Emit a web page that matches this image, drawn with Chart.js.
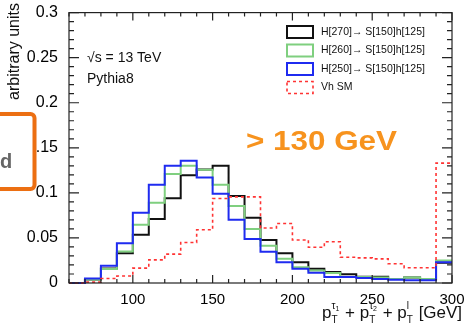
<!DOCTYPE html>
<html>
<head>
<meta charset="utf-8">
<script src="https://cdn.jsdelivr.net/npm/chart.js@4"></script>
<style>
  html, body { margin: 0; padding: 0; background: #fff; }
  #wrap { width: 465px; height: 332px; }
</style>
</head>
<body>
<div id="wrap"><canvas id="histChart"></canvas></div>
<script>
// bin lower edges (GeV), last entry closes the final bin
const binEdges = [60, 70, 80, 90, 100, 110, 120, 130, 140, 150, 160, 170, 180, 190, 200, 210, 220, 230, 240, 250, 260, 270, 280, 290, 300];

const h270 = [0, 0.004, 0.016, 0.033, 0.0535, 0.071, 0.094, 0.1195, 0.126, 0.130, 0.0964, 0.0725, 0.0477, 0.033, 0.0231, 0.0158, 0.0121, 0.0096, 0.007, 0.007, 0.0044, 0.006, 0.0044, 0.0224];
const h260 = [0, 0.004, 0.0154, 0.035, 0.0645, 0.089, 0.121, 0.130, 0.1257, 0.109, 0.0854, 0.0598, 0.0414, 0.0268, 0.0176, 0.014, 0.011, 0.0066, 0.0066, 0.006, 0.0044, 0.006, 0.0044, 0.025];
const h250 = [0, 0.005, 0.019, 0.044, 0.078, 0.109, 0.130, 0.1356, 0.117, 0.099, 0.0703, 0.0488, 0.0348, 0.0231, 0.0158, 0.0114, 0.0066, 0.0066, 0.0055, 0.0044, 0.0037, 0.003, 0.003, 0.023];
const vhSM = [0, 0.001, 0.005, 0.0077, 0.0165, 0.0257, 0.032, 0.045, 0.059, 0.0938, 0.0955, 0.0956, 0.061, 0.066, 0.0477, 0.0396, 0.0458, 0.0286, 0.0279, 0.0268, 0.0213, 0.0169, 0.0169, 0.133];

const seriesLabels = ["H[270]\u2192 S[150]h[125]", "H[260]\u2192 S[150]h[125]", "H[250]\u2192 S[150]h[125]", "Vh SM"];
const xTickLabels = [100, 150, 200, 250, 300];
const yTickLabels = ["0", "0.05", "0.1", "0.15", "0.2", "0.25", "0.3"];

const FONT = "'Liberation Sans', Arial, Helvetica, sans-serif";

// turn bin contents into step points
function toSteps(vals) {
    const pts = vals.map((v, i) => ({ x: binEdges[i], y: v }));
    pts.push({ x: binEdges[vals.length], y: vals[vals.length - 1] });
    return pts;
}

function histo(label, vals, color, dash, order) {
    return {
        label: label,
        data: toSteps(vals),
        stepped: "before", // horizontal at the bin value, then the jump
        borderColor: color,
        borderWidth: dash ? 1.6 : 2,
        borderDash: dash || [],
        pointRadius: 0,
        fill: false,
        order: order,
        clip: false,
    };
}

// ROOT look: frame, inward ticks, legend and the overlay texts
const rootStyle = {
    id: "rootStyle",
    afterDatasetsDraw(chart) {
        const ctx = chart.ctx;
        const a = chart.chartArea;
        const xs = chart.scales.x, ys = chart.scales.y;
        ctx.save();
        ctx.strokeStyle = "#222";
        ctx.lineWidth = 1.2;
        ctx.strokeRect(a.left, a.top, a.right - a.left, a.bottom - a.top);
        ctx.beginPath();
        xs.ticks.forEach(t => {
            const px = xs.getPixelForValue(t.value);
            const len = t.value % 50 === 0 ? 8 : 4;
            ctx.moveTo(px, a.bottom); ctx.lineTo(px, a.bottom - len);
            ctx.moveTo(px, a.top); ctx.lineTo(px, a.top + len);
        });
        ys.ticks.forEach(t => {
            const py = ys.getPixelForValue(t.value);
            const len = Math.round(t.value * 100) % 5 === 0 ? 10 : 5;
            ctx.moveTo(a.left, py); ctx.lineTo(a.left + len, py);
            ctx.moveTo(a.right, py); ctx.lineTo(a.right - len, py);
        });
        ctx.stroke();

        // legend
        ctx.font = "10.5px " + FONT;
        ctx.textBaseline = "middle";
        ctx.textAlign = "left";
        chart.data.datasets.forEach((ds, i) => {
            const y = 32 + i * 18.5;
            ctx.strokeStyle = ds.borderColor;
            ctx.lineWidth = ds.borderDash.length ? 1.6 : 2;
            ctx.setLineDash(ds.borderDash);
            ctx.strokeRect(287, y - 6, 26, 12);
            ctx.setLineDash([]);
            ctx.fillStyle = "#111";
            ctx.fillText(ds.label, 321, y);
        });

        ctx.fillStyle = "#111";
        ctx.font = "14px " + FONT;
        ctx.fillText("\u221As = 13 TeV", 87, 58);
        ctx.fillText("Pythia8", 87, 79);
        ctx.restore();
    },
    afterDraw(chart) {
        const ctx = chart.ctx;
        ctx.save();
        // y axis title
        ctx.fillStyle = "#111";
        ctx.font = "16px " + FONT;
        ctx.translate(19, 3);
        ctx.rotate(-Math.PI / 2);
        ctx.textAlign = "right";
        ctx.textBaseline = "alphabetic";
        ctx.fillText("arbitrary units", 0, 0);
        ctx.restore();

        // x axis title with sub/superscripts
        ctx.save();
        ctx.fillStyle = "#111";
        ctx.textBaseline = "alphabetic";
        ctx.textAlign = "left";
        let x = 322;
        const base = 318;
        const big = "17px " + FONT, small = "10px " + FONT, tiny = "7px " + FONT;
        function put(txt, font, dy) {
            ctx.font = font;
            ctx.fillText(txt, x, base + dy);
            return ctx.measureText(txt).width;
        }
        function pT(sup, supSub) {
            x += put("p", big, 0);
            const wSub = put("T", small, 5);
            let wSup = put(sup, small, -9);
            if (supSub) {
                ctx.font = tiny;
                ctx.fillText(supSub, x + wSup, base - 7);
                wSup += ctx.measureText(supSub).width;
            }
            x += Math.max(wSub, wSup) + 1;
        }
        pT("\u03C4", "1");
        x += put(" + ", big, 0);
        pT("\u03C4", "2");
        x += put(" + ", big, 0);
        pT("l", "");
        put(" [GeV]", big, 0);
        ctx.restore();

        // orange text
        ctx.save();
        ctx.font = "bold 27px " + FONT;
        ctx.fillStyle = "#f7931e";
        const label = "> 130 GeV";
        const w = ctx.measureText(label).width;
        ctx.translate(246, 150);
        ctx.scale(151 / w, 1);
        ctx.fillText(label, 0, 0);
        ctx.restore();

        // orange box at the left edge
        ctx.save();
        ctx.shadowColor = "rgba(0,0,0,0.25)";
        ctx.shadowBlur = 3;
        ctx.fillStyle = "#fff";
        ctx.strokeStyle = "#ec6f12";
        ctx.lineWidth = 4;
        ctx.beginPath();
        ctx.roundRect(-10, 114, 44.5, 75, 4);
        ctx.fill();
        ctx.shadowColor = "transparent";
        ctx.stroke();
        ctx.fillStyle = "#666";
        ctx.font = "bold 20px " + FONT;
        ctx.fillText("d", 0, 168);
        ctx.restore();
    }
};

const ctx = document.getElementById("histChart");

new Chart(ctx, {
    type: "line",
    data: {
        datasets: [
            histo(seriesLabels[0], h270, "#111111", null, 4),
            histo(seriesLabels[1], h260, "#7fcf7f", null, 3),
            histo(seriesLabels[2], h250, "#1f2bf0", null, 2),
            histo(seriesLabels[3], vhSM, "#ff3333", [3, 3], 1),
        ],
    },
    options: {
        responsive: true,
        maintainAspectRatio: false,
        animation: false,
        layout: { padding: { left: 0, right: 13, top: 10, bottom: 0 } },
        plugins: {
            legend: { display: false },
            tooltip: { enabled: false },
        },
        scales: {
            x: {
                type: "linear",
                min: 60,
                max: 300,
                grid: { display: false },
                border: { display: false },
                ticks: {
                    stepSize: 10,
                    autoSkip: false,
                    maxRotation: 0,
                    padding: 0,
                    color: "#000",
                    font: { family: FONT, size: 15 },
                    callback: v => xTickLabels.includes(v) ? String(v) : "",
                },
                afterFit: s => { s.height = 49; },
            },
            y: {
                min: 0,
                max: 0.3,
                grid: { display: false },
                border: { display: false },
                ticks: {
                    stepSize: 0.01,
                    maxTicksLimit: 100,
                    autoSkip: false,
                    padding: 3,
                    color: "#000",
                    font: { family: FONT, size: 16 },
                    callback: v => {
                        const k = Math.round(v * 100);
                        return k % 5 === 0 ? yTickLabels[k / 5] : "";
                    },
                },
                afterFit: s => { s.width = 69; },
            },
        },
    },
    plugins: [rootStyle],
});
</script>
</body>
</html>
